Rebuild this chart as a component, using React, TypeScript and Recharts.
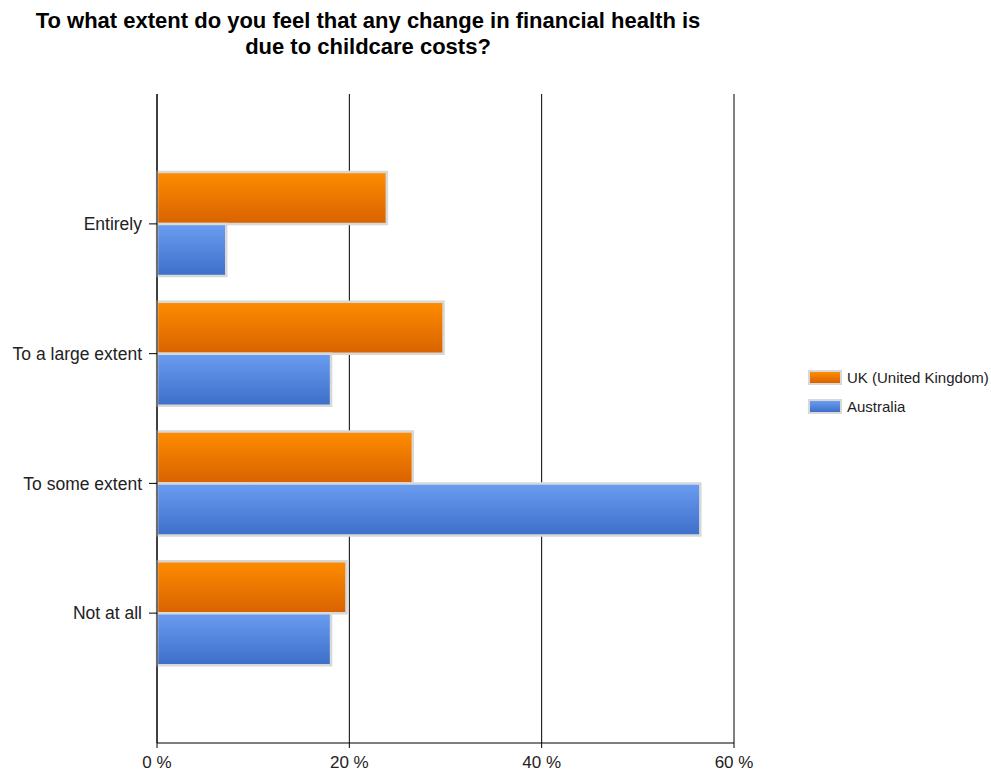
import { BarChart, Bar, XAxis, YAxis, CartesianGrid } from "recharts";

const categories = ["Entirely", "To a large extent", "To some extent", "Not at all"];
const ukValues = [23.9, 29.8, 26.6, 19.7];
const australiaValues = [7.2, 18.1, 56.5, 18.1];
const xTicks = [0, 20, 40, 60];

const SERIES = [
  { key: "uk", name: "UK (United Kingdom)", top: "#ff8c00", bottom: "#d86200" },
  { key: "au", name: "Australia", top: "#6a9cf0", bottom: "#3d6fca" },
];

const data = categories.map((c, i) => ({ name: c, uk: ukValues[i], au: australiaValues[i] }));

const FONT = "Arial, 'Liberation Sans', sans-serif";

function Legend() {
  return (
    <div style={{ position: "absolute", left: 808, top: 363, fontFamily: FONT, fontSize: 15, color: "#222" }}>
      {SERIES.map((s) => (
        <div key={s.key} style={{ display: "flex", alignItems: "center", height: 29 }}>
          <div
            style={{
              width: 30,
              height: 11,
              background: `linear-gradient(${s.top}, ${s.bottom})`,
              border: "2px solid #d8d8d8",
              marginRight: 5,
            }}
          />
          <span>{s.name}</span>
        </div>
      ))}
    </div>
  );
}

export default function App() {
  return (
    <div style={{ position: "absolute", left: 0, top: 0, width: 991, height: 772, background: "#fff" }}>
      <div
        style={{
          position: "absolute",
          left: 0,
          width: 736,
          top: 8,
          textAlign: "center",
          fontFamily: FONT,
          fontWeight: "bold",
          fontSize: 22,
          lineHeight: "26px",
          color: "#000",
          whiteSpace: "nowrap",
        }}
      >
        To what extent do you feel that any change in financial health is
        <br />
        due to childcare costs?
      </div>
      <BarChart
        width={991}
        height={772}
        data={data}
        layout="vertical"
        margin={{ top: 94, right: 257, bottom: 0, left: 0 }}
        barCategoryGap="10%"
        barGap={0}
      >
        <defs>
          {SERIES.map((s) => (
            <linearGradient key={s.key} id={`grad-${s.key}`} x1="0" y1="0" x2="0" y2="1">
              <stop offset="0%" stopColor={s.top} />
              <stop offset="100%" stopColor={s.bottom} />
            </linearGradient>
          ))}
        </defs>
        <CartesianGrid horizontal={false} stroke="#000" strokeWidth={1} />
        <XAxis
          type="number"
          domain={[0, 60]}
          ticks={xTicks}
          tickFormatter={(v) => `${v} %`}
          axisLine={{ stroke: "#000" }}
          tickLine={{ stroke: "#000" }}
          tickSize={5}
          tickMargin={8}
          tick={{ fill: "#222", fontSize: 17, fontFamily: FONT }}
          height={29}
        />
        <YAxis
          type="category"
          dataKey="name"
          width={157}
          padding={{ top: 65, bottom: 65 }}
          axisLine={{ stroke: "#000" }}
          tickLine={{ stroke: "#000" }}
          tickSize={8}
          tickMargin={7}
          tick={{ fill: "#222", fontSize: 17.5, fontFamily: FONT }}
        />
        {SERIES.map((s) => (
          <Bar
            key={s.key}
            dataKey={s.key}
            name={s.name}
            fill={`url(#grad-${s.key})`}
            stroke="#d8d8d8"
            strokeWidth={2.5}
            isAnimationActive={false}
          />
        ))}
      </BarChart>
      <Legend />
    </div>
  );
}
